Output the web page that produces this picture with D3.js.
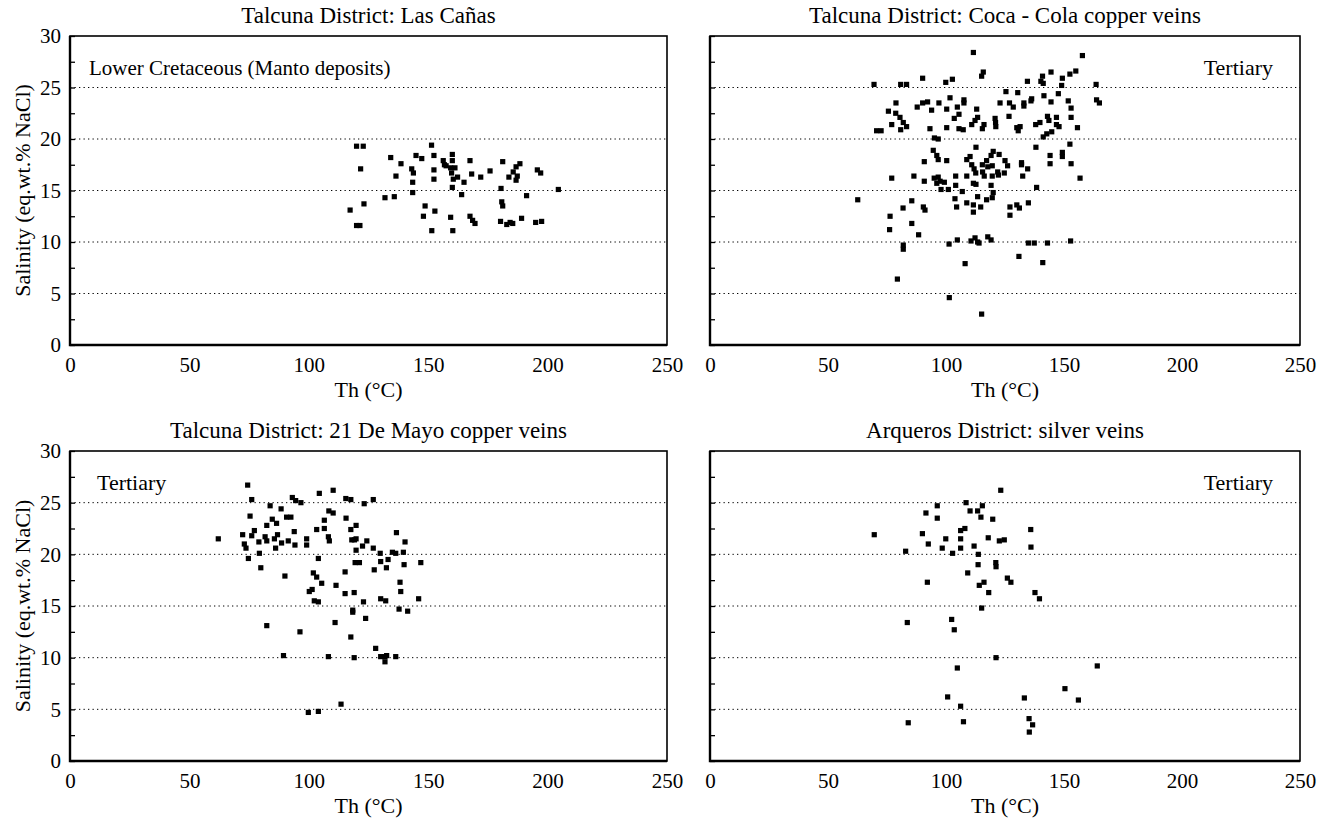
<!DOCTYPE html>
<html>
<head>
<meta charset="utf-8">
<script src="https://cdn.jsdelivr.net/npm/d3@7"></script>
<style>
body { margin: 0; background: #fff; }
svg { display: block; font-family: "Liberation Serif", "Times New Roman", serif; }
</style>
</head>
<body>
<svg id="chart" width="1332" height="824"></svg>
<script>
// Th (°C), salinity (eq.wt.% NaCl)
const lasCanas = [
  [120.0,19.3],[122.8,19.3],[151.4,19.4],[121.7,17.1],[134.3,18.2],[138.6,17.6],[144.9,18.4],[147.3,18.1],
  [143.1,17.1],[143.8,16.7],[136.5,16.4],[143.5,15.8],[143.5,14.8],[152.4,18.4],[152.4,17.0],[152.4,16.1],
  [156.3,17.9],[156.8,17.5],[157.5,17.4],[160.1,18.5],[160.1,17.9],[159.4,17.2],[161.2,17.2],[159.8,16.7],
  [160.5,16.1],[162.3,16.3],[165.0,15.8],[160.1,15.3],[164.0,14.6],[167.5,17.9],[168.2,16.6],[172.0,16.3],
  [175.9,16.9],[181.2,17.8],[186.8,17.3],[188.4,17.6],[185.6,16.8],[187.3,16.4],[183.8,16.3],[186.8,16.0],
  [195.7,17.0],[197.1,16.7],[204.5,15.1],[180.5,15.2],[180.8,13.9],[181.2,13.5],[191.2,14.5],[131.9,14.3],
  [135.8,14.4],[123.1,13.7],[117.3,13.1],[148.7,13.5],[152.8,13.0],[148.0,12.5],[159.4,12.4],[167.5,12.5],
  [168.6,12.1],[169.6,11.8],[180.3,12.0],[182.9,11.7],[184.3,11.9],[185.4,11.8],[189.1,12.3],[195.0,11.9],
  [197.5,12.0],[120.0,11.6],[121.4,11.6],[151.5,11.1],[160.3,11.1]
];

const cocaCola = [
  [69.5,25.3],[80.8,25.3],[83.3,25.3],[78.8,23.5],[75.6,22.7],[78.7,22.5],[80.5,22.1],[81.9,21.6],
  [83.3,21.2],[77.0,21.4],[80.8,20.9],[70.6,20.8],[72.5,20.8],[77.0,16.2],[86.4,16.4],[62.6,14.1],
  [85.5,14.0],[81.8,13.3],[76.3,12.5],[85.5,11.8],[76.1,11.2],[88.4,10.7],[81.9,9.7],[81.9,9.3],[79.4,6.4],
  [111.6,28.4],[115.8,26.5],[115.1,26.1],[90.1,25.9],[99.9,25.5],[102.7,25.8],[134.5,25.6],[125.4,24.6],
  [130.4,24.5],[136.3,23.9],[136.0,23.7],[133.0,23.5],[133.0,23.2],[126.9,23.5],[128.5,23.1],[122.9,23.5],
  [101.7,24.0],[107.6,23.8],[107.6,23.5],[87.8,23.1],[90.1,23.5],[92.2,23.6],[97.0,23.5],[93.9,22.8],
  [100.3,22.9],[104.8,23.1],[105.5,22.4],[103.5,22.0],[113.0,22.9],[113.4,22.1],[112.3,21.8],[110.9,21.4],
  [116.1,21.4],[115.4,21.0],[120.8,22.0],[121.0,21.6],[121.1,21.2],[126.7,22.2],[130.0,21.1],[131.4,21.2],
  [130.6,20.8],[93.2,21.0],[100.3,21.1],[105.5,21.0],[107.3,20.9],[95.1,20.1],[96.7,20.0],[112.7,19.2],
  [138.1,19.2],[94.6,18.9],[96.1,18.4],[96.7,18.0],[90.8,17.8],[100.3,17.9],[110.2,18.3],[108.8,18.0],
  [110.9,17.5],[111.9,17.1],[112.6,16.7],[120.0,18.8],[122.5,18.5],[119.1,18.4],[117.2,17.9],[115.4,17.5],
  [117.7,17.3],[119.6,17.4],[125.0,17.9],[126.1,17.4],[124.7,16.7],[121.9,16.8],[122.2,16.5],[132.0,17.7],
  [132.0,17.5],[134.6,17.1],[132.5,16.4],[115.5,16.8],[116.2,16.4],[119.6,16.4],[108.8,16.4],[104.1,16.4],
  [90.8,15.9],[95.0,16.2],[96.7,16.3],[97.5,15.9],[96.1,15.7],[99.3,15.8],[104.1,15.5],[111.6,15.7],
  [112.7,15.6],[119.1,15.5],[138.4,15.3],
  [97.9,15.1],[101.0,15.1],[106.9,14.9],[113.4,14.4],[120.0,14.8],[119.6,14.3],[117.2,14.1],[103.8,14.2],
  [104.5,13.4],[108.8,13.8],[111.6,13.6],[111.6,12.9],[114.7,13.4],[90.4,13.4],[91.1,13.1],[101.3,9.8],
  [104.8,10.2],[110.6,10.1],[112.3,10.4],[113.4,10.0],[114.0,9.9],[117.7,10.5],[119.1,10.2],[127.1,13.4],
  [127.1,12.6],[130.0,13.6],[131.1,13.3],[134.9,13.8],[134.9,9.9],[137.4,9.9],[130.9,8.6],[108.1,7.9],
  [101.4,4.6],[115.1,3.0],
  [140.9,26.1],[144.5,26.5],[140.2,25.6],[141.2,25.4],[149.3,25.9],[149.0,25.2],[152.5,26.3],[155.0,26.6],
  [157.8,28.1],[147.6,24.4],[141.5,24.2],[144.5,23.6],[151.8,23.7],[153.0,23.0],[163.6,25.3],[163.8,23.8],
  [165.0,23.5],[138.0,21.4],[139.8,21.6],[143.0,22.2],[143.6,21.8],[146.8,22.1],[146.8,21.4],[147.9,21.2],
  [153.0,22.1],[155.7,21.1],[141.2,20.2],[142.7,20.5],[144.8,20.7],[152.5,19.5],[149.3,18.7],[149.3,18.3],
  [144.1,18.4],[144.1,17.6],[153.0,17.6],[156.8,16.2],[141.0,8.0],[143.0,9.9],[152.8,10.1]
];

const deMayo = [
  [62.1,21.5],[74.4,26.7],[76.1,25.3],[75.4,23.7],[72.3,21.9],[73.0,21.0],[73.7,20.6],[74.7,19.6],
  [76.1,21.8],[77.2,22.3],[79.1,21.2],[79.3,20.1],[79.9,18.7],[81.7,21.7],[82.4,21.3],[82.4,22.8],
  [83.8,24.7],[84.7,23.4],[85.6,21.5],[86.5,23.0],[86.9,21.9],[86.1,20.6],[88.4,24.4],[88.6,21.1],
  [90.0,17.9],[90.7,23.6],[92.5,23.6],[91.4,21.3],[93.1,25.5],[94.5,25.2],[93.9,22.2],[94.2,20.9],
  [96.7,25.0],[99.1,21.5],[99.1,20.9],[103.3,22.4],[104.0,19.6],[104.4,25.9],[106.5,23.3],[106.5,22.5],
  [108.2,21.7],[108.6,21.3],[108.4,24.2],[110.2,24.0],[110.2,26.2],[101.9,18.2],[103.3,17.8],[105.4,17.2],
  [100.2,16.4],[101.4,16.6],[102.3,15.5],[104.0,15.4],[111.4,17.0],[111.0,13.4],[96.3,12.5],[82.4,13.1],
  [89.4,10.2],[108.2,10.1],[115.2,18.3],[115.2,16.2],[115.5,25.4],[117.6,25.3],[115.6,23.5],[117.6,22.4],
  [118.0,21.4],[119.1,21.4],[119.8,21.5],[119.8,22.8],[119.8,20.4],[118.4,14.6],[118.4,14.4],[119.0,16.3],
  [119.4,19.2],[121.2,19.2],[117.6,12.0],[119.0,10.0],[123.2,24.9],[122.5,20.8],[124.3,21.3],[127.0,25.3],
  [127.0,20.6],[127.4,18.5],[122.9,15.4],[123.8,13.8],[128.0,10.9],[129.9,20.1],[130.1,19.3],[130.1,15.7],
  [132.2,15.5],[130.1,10.1],[131.9,10.1],[132.6,10.2],[131.9,9.6],[132.5,18.7],[133.2,19.5],[135.0,20.2],
  [136.4,20.1],[136.7,22.1],[137.8,14.7],[136.4,10.1],[138.2,17.3],[138.5,16.4],[139.6,20.2],[140.3,21.2],
  [139.9,19.0],[141.4,14.5],[146.0,15.7],[146.9,19.2],[99.8,4.7],[104.0,4.8],[113.5,5.5]
];

const arqueros = [
  [69.6,21.9],[82.9,20.3],[83.6,13.4],[84.0,3.7],[90.0,22.0],[91.5,24.0],[92.5,21.0],[92.1,17.3],
  [96.3,24.7],[96.3,23.5],[98.4,20.6],[99.9,21.5],[102.8,20.1],[102.4,13.7],[103.5,12.7],[104.8,9.0],
  [100.7,6.2],[106.2,5.3],[107.4,3.8],[106.2,22.3],[106.2,21.5],[106.2,20.6],[108.0,22.5],[108.5,25.0],
  [110.2,24.2],[109.2,18.2],[111.9,20.8],[113.7,20.0],[113.6,19.0],[113.4,24.2],[114.8,23.6],[115.4,24.7],
  [114.1,17.0],[116.1,17.3],[115.1,14.8],[118.1,16.3],[117.9,21.6],[119.8,23.4],[121.1,19.2],[121.2,18.8],
  [121.2,10.0],[123.2,26.2],[122.6,21.3],[124.7,21.4],[126.0,17.7],[127.5,17.3],[135.9,22.4],[136.0,20.7],
  [137.7,16.3],[139.6,15.7],[133.2,6.1],[135.2,4.1],[136.7,3.5],[135.3,2.8],[150.4,7.0],[156.1,5.9],
  [164.1,9.2]
];

const panelTitles = [
  "Talcuna District: Las Cañas",
  "Talcuna District: Coca - Cola copper veins",
  "Talcuna District: 21 De Mayo copper veins",
  "Arqueros District: silver veins"
];
const panelNotes = ["Lower Cretaceous (Manto deposits)", "Tertiary", "Tertiary", "Tertiary"];
const xTicks = [0, 50, 100, 150, 200, 250];
const yTicks = [0, 5, 10, 15, 20, 25, 30];
const yGrid = [5, 10, 15, 20, 25];
const yAllTicks = d3.range(0, 30.01, 2.5);
const xTitle = "Th (°C)";
const yTitle = "Salinity (eq.wt.% NaCl)";

const svg = d3.select("#chart");

// panel placement
const cols = [{x0: 70, x1: 667}, {x0: 710, x1: 1300}];
const rows = [{y0: 36, y1: 345}, {y0: 451, y1: 761}];
const panels = [
  {data: lasCanas, col: 0, row: 0, noteRight: false},
  {data: cocaCola, col: 1, row: 0, noteRight: true},
  {data: deMayo, col: 0, row: 1, noteRight: false},
  {data: arqueros, col: 1, row: 1, noteRight: true}
];

function drawPanel(p, i) {
  let c = cols[p.col], r = rows[p.row];
  let x = d3.scaleLinear().domain([0, 250]).range([c.x0, c.x1]);
  let y = d3.scaleLinear().domain([0, 30]).range([r.y1, r.y0]);
  let g = svg.append("g");

  // dotted grid
  g.selectAll(".grid").data(yGrid).join("line")
    .attr("x1", c.x0).attr("x2", c.x1)
    .attr("y1", d => y(d)).attr("y2", d => y(d))
    .attr("stroke", "#000").attr("stroke-width", 1)
    .attr("stroke-dasharray", "1.3,3.2");

  // inner tick marks on the left edge
  g.append("g")
    .attr("transform", `translate(${c.x0},0)`)
    .call(d3.axisRight(y).tickValues(yAllTicks).tickSize(5).tickFormat(""))
    .call(a => a.select(".domain").remove())
    .selectAll("line").attr("stroke-width", 1.3);

  // frame
  g.append("rect")
    .attr("x", c.x0).attr("y", r.y0)
    .attr("width", c.x1 - c.x0).attr("height", r.y1 - r.y0)
    .attr("fill", "none").attr("stroke", "#000").attr("stroke-width", 1.6);
  g.append("path")
    .attr("d", `M${c.x0},${r.y0}V${r.y1}H${c.x1}`)
    .attr("fill", "none").attr("stroke", "#000").attr("stroke-width", 2.4);

  // x tick labels
  g.append("g")
    .attr("transform", `translate(0,${r.y1 + 9})`)
    .call(d3.axisBottom(x).tickValues(xTicks).tickSize(0).tickFormat(d3.format("d")))
    .call(a => a.select(".domain").remove())
    .selectAll("text")
    .attr("font-family", "Liberation Serif, serif")
    .attr("font-size", 21).attr("fill", "#000");

  // y tick labels only on left column
  if (p.col === 0) {
    g.append("g")
      .attr("transform", `translate(${c.x0 - 6},0)`)
      .call(d3.axisLeft(y).tickValues(yTicks).tickSize(0).tickFormat(d3.format("d")))
      .call(a => a.select(".domain").remove())
      .selectAll("text")
      .attr("font-family", "Liberation Serif, serif")
      .attr("font-size", 21).attr("fill", "#000");

    svg.append("text")
      .attr("transform", `translate(30,${(r.y0 + r.y1) / 2}) rotate(-90)`)
      .attr("text-anchor", "middle")
      .attr("font-size", 22)
      .text(yTitle);
  }

  // points
  g.selectAll(".pt").data(p.data).join("rect")
    .attr("x", d => x(d[0]) - 2.6).attr("y", d => y(d[1]) - 2.6)
    .attr("width", 5.2).attr("height", 5.2)
    .attr("fill", "#000");

  // titles and notes
  svg.append("text")
    .attr("x", (c.x0 + c.x1) / 2).attr("y", r.y0 - 13)
    .attr("text-anchor", "middle").attr("font-size", 23)
    .text(panelTitles[i]);

  svg.append("text")
    .attr("x", (c.x0 + c.x1) / 2).attr("y", r.y1 + 52)
    .attr("text-anchor", "middle").attr("font-size", 22)
    .text(xTitle);

  svg.append("text")
    .attr("x", p.noteRight ? c.x1 - 27 : c.x0 + (p.row === 0 ? 19 : 27))
    .attr("y", r.y0 + 39)
    .attr("text-anchor", p.noteRight ? "end" : "start")
    .attr("font-size", p.row === 0 && !p.noteRight ? 21 : 22)
    .text(panelNotes[i]);
}

panels.forEach(drawPanel);
</script>
</body>
</html>
